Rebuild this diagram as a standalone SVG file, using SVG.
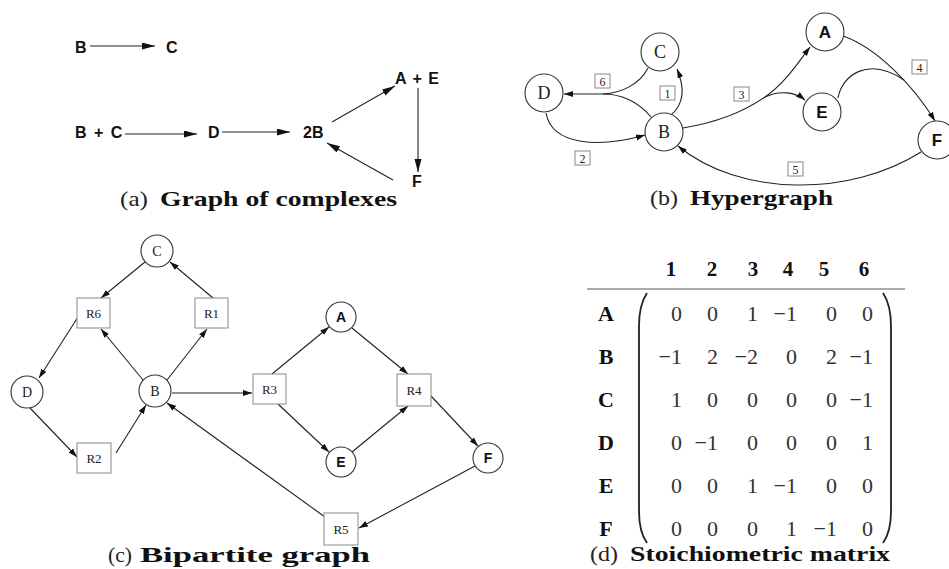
<svg xmlns="http://www.w3.org/2000/svg" width="949" height="569" viewBox="0 0 949 569">
<defs>
<marker id="ha" markerUnits="userSpaceOnUse" markerWidth="14" markerHeight="8" refX="13" refY="3.5" orient="auto"><path d="M0,0 L13,3.5 L0,7 Z" fill="#111"/></marker>
<marker id="hb" markerUnits="userSpaceOnUse" markerWidth="10" markerHeight="7" refX="9" refY="3" orient="auto"><path d="M0,0 L9,3 L0,6 Z" fill="#111"/></marker>
</defs>
<style>
.sans{font-family:"Liberation Sans",Arial,sans-serif;font-weight:bold;fill:#111}
.serif{font-family:"Liberation Serif","Times New Roman",serif;fill:#222}
.bold{font-weight:bold;fill:#111}
.mid{text-anchor:middle}
.end{text-anchor:end}
.node{fill:#fff;stroke:#333;stroke-width:1.1}
.box{fill:#fff;stroke:#888;stroke-width:1}
.edge{fill:none;stroke:#222;stroke-width:1.1}
.ea{marker-end:url(#ha)}
.eb{marker-end:url(#hb)}
.pa{font-size:16px}
.pb{font-size:18px}
.pbs{font-size:17px}
.lbl{font-size:12px}
.pc{font-size:14px}
.rl{font-size:13px}
.cap{font-size:22px}
.mx{font-size:22px;fill:#333}
.paren{fill:none;stroke:#222;stroke-width:1.8}
</style>
<rect width="949" height="569" fill="#fff"/>

<g id="connectors">
<!-- (a) -->
<path class="edge ea" d="M90,46 L155,46"/>
<path class="edge ea" d="M125,134 L197,134"/>
<path class="edge ea" d="M222,132 L290,132"/>
<path class="edge ea" d="M332,122 L395,86"/>
<path class="edge ea" d="M418,88 L418,172"/>
<path class="edge ea" d="M393,180 L327,143"/>
<!-- (b) -->
<path class="edge eb" d="M651,117 C638,101 620,94 603,94 L564,94"/>
<path class="edge" d="M648,68 C640,84 622,93 603,94"/>
<path class="edge eb" d="M671,115 C684,104 685,88 677,69"/>
<path class="edge eb" d="M546,113 C552,146 600,148 645,135"/>
<path class="edge eb" d="M683,128 C720,122 745,111 765,97 C785,83 797,64 810,47"/>
<path class="edge eb" d="M765,97 C780,90 795,92 805,100"/>
<path class="edge eb" d="M843,36 C878,48 915,88 935,121"/>
<path class="edge" d="M838,98 C842,75 868,56 904,80"/>
<path class="edge eb" d="M921,152 C850,197 740,197 678,146"/>
<!-- (c) -->
<path class="edge eb" d="M145,262 L101,298"/>
<path class="edge eb" d="M213,298 L170,262"/>
<path class="edge eb" d="M78,317 L39,378"/>
<path class="edge eb" d="M143,380 L101,329"/>
<path class="edge eb" d="M167,380 L207,329"/>
<path class="edge eb" d="M30,408 L77,457"/>
<path class="edge eb" d="M116,453 L146,405"/>
<path class="edge eb" d="M172,393 L252,393"/>
<path class="edge eb" d="M325,517 L167,403"/>
<path class="edge eb" d="M272,374 L329,327"/>
<path class="edge eb" d="M352,328 L408,374"/>
<path class="edge eb" d="M278,404 L329,452"/>
<path class="edge eb" d="M352,452 L408,406"/>
<path class="edge eb" d="M431,396 L478,446"/>
<path class="edge eb" d="M475,466 L359,528"/>
</g>

<!-- (a) graph of complexes -->
<g id="a-B"><text class="sans pa" x="75" y="53">B</text></g>
<g id="a-C"><text class="sans pa" x="166" y="53">C</text></g>
<g id="a-BC"><text class="sans pa" x="75" y="138" word-spacing="3">B + C</text></g>
<g id="a-D"><text class="sans pa" x="208" y="138">D</text></g>
<g id="a-2B"><text class="sans pa" x="303" y="138">2B</text></g>
<g id="a-AE"><text class="sans pa" x="395" y="84" word-spacing="2">A + E</text></g>
<g id="a-F"><text class="sans pa" x="412" y="187">F</text></g>
<g id="cap-a"><text class="serif cap" x="120" y="206" textLength="28" lengthAdjust="spacingAndGlyphs">(a)</text><text class="serif bold cap" x="160" y="206" textLength="237" lengthAdjust="spacingAndGlyphs">Graph of complexes</text></g>

<!-- (b) hypergraph -->
<g id="b-D"><circle class="node" cx="544" cy="93" r="19"/><text class="serif pb mid" x="544" y="99">D</text></g>
<g id="b-C"><circle class="node" cx="660" cy="52" r="19"/><text class="serif pb mid" x="660" y="58">C</text></g>
<g id="b-B"><circle class="node" cx="664" cy="132" r="19"/><text class="serif pb mid" x="664" y="138">B</text></g>
<g id="b-A"><circle class="node" cx="825" cy="32" r="19"/><text class="sans pbs mid" x="825" y="38">A</text></g>
<g id="b-E"><circle class="node" cx="822" cy="112" r="19"/><text class="sans pbs mid" x="822" y="118">E</text></g>
<g id="b-F"><circle class="node" cx="937" cy="140" r="19"/><text class="sans pbs mid" x="937" y="146">F</text></g>
<g id="b-l6"><rect class="box" x="595" y="74" width="15" height="14"/><text class="serif lbl mid" x="602.5" y="85.5">6</text></g>
<g id="b-l1"><rect class="box" x="660" y="86" width="15" height="14"/><text class="serif lbl mid" x="667.5" y="97.5">1</text></g>
<g id="b-l2"><rect class="box" x="575" y="151" width="15" height="14"/><text class="serif lbl mid" x="582.5" y="162.5">2</text></g>
<g id="b-l3"><rect class="box" x="734" y="87" width="15" height="14"/><text class="serif lbl mid" x="741.5" y="98.5">3</text></g>
<g id="b-l4"><rect class="box" x="912" y="60" width="15" height="14"/><text class="serif lbl mid" x="919.5" y="71.5">4</text></g>
<g id="b-l5"><rect class="box" x="788" y="162" width="15" height="14"/><text class="serif lbl mid" x="795.5" y="173.5">5</text></g>
<g id="cap-b"><text class="serif cap" x="650" y="205" textLength="28" lengthAdjust="spacingAndGlyphs">(b)</text><text class="serif bold cap" x="690" y="205" textLength="143" lengthAdjust="spacingAndGlyphs">Hypergraph</text></g>

<!-- (c) bipartite graph -->
<g id="c-C"><circle class="node" cx="157" cy="251" r="16"/><text class="serif pc mid" x="157" y="256">C</text></g>
<g id="c-D"><circle class="node" cx="27" cy="392" r="16"/><text class="serif pc mid" x="27" y="397">D</text></g>
<g id="c-B"><circle class="node" cx="155" cy="391" r="16"/><text class="serif pc mid" x="155" y="396">B</text></g>
<g id="c-A"><circle class="node" cx="341" cy="317" r="15"/><text class="sans pc mid" x="341" y="322">A</text></g>
<g id="c-E"><circle class="node" cx="341" cy="462" r="15"/><text class="sans pc mid" x="341" y="467">E</text></g>
<g id="c-F"><circle class="node" cx="488" cy="458" r="15"/><text class="sans pc mid" x="488" y="463">F</text></g>
<g id="c-R6"><rect class="box" x="77" y="298" width="33" height="30"/><text class="serif rl mid" x="93.5" y="317.5">R6</text></g>
<g id="c-R1"><rect class="box" x="195" y="298" width="33" height="30"/><text class="serif rl mid" x="211.5" y="317.5">R1</text></g>
<g id="c-R2"><rect class="box" x="77" y="443" width="34" height="30"/><text class="serif rl mid" x="94" y="462.5">R2</text></g>
<g id="c-R3"><rect class="box" x="253" y="374" width="33" height="30"/><text class="serif rl mid" x="269.5" y="393.5">R3</text></g>
<g id="c-R4"><rect class="box" x="397" y="374" width="34" height="32"/><text class="serif rl mid" x="414" y="394.5">R4</text></g>
<g id="c-R5"><rect class="box" x="324" y="513" width="34" height="32"/><text class="serif rl mid" x="341" y="533.5">R5</text></g>
<g id="cap-c"><text class="serif cap" x="108" y="562" textLength="24" lengthAdjust="spacingAndGlyphs">(c)</text><text class="serif bold cap" x="140" y="562" textLength="230" lengthAdjust="spacingAndGlyphs">Bipartite graph</text></g>

<!-- (d) stoichiometric matrix -->
<g id="d-header">
<text class="serif bold mid" font-size="21" x="671" y="276">1</text>
<text class="serif bold mid" font-size="21" x="712" y="276">2</text>
<text class="serif bold mid" font-size="21" x="753" y="276">3</text>
<text class="serif bold mid" font-size="21" x="788" y="276">4</text>
<text class="serif bold mid" font-size="21" x="824" y="276">5</text>
<text class="serif bold mid" font-size="21" x="864" y="276">6</text>
<line x1="587" y1="289" x2="905" y2="289" stroke="#555" stroke-width="1"/>
</g>
<g id="d-labels">
<text class="serif bold mid" font-size="22" x="606" y="321">A</text>
<text class="serif bold mid" font-size="22" x="606" y="364">B</text>
<text class="serif bold mid" font-size="22" x="606" y="407">C</text>
<text class="serif bold mid" font-size="22" x="606" y="450">D</text>
<text class="serif bold mid" font-size="22" x="606" y="493">E</text>
<text class="serif bold mid" font-size="22" x="606" y="536">F</text>
</g>
<g id="d-parens">
<path class="paren" d="M647,293 Q639,305 639,326 L639,511 Q639,532 647,543"/>
<path class="paren" d="M883,293 Q891,305 891,326 L891,511 Q891,532 883,543"/>
</g>
<g id="d-row-A" class="serif mx end">
<text class="mx end" x="682" y="321">0</text><text class="mx end" x="718" y="321">0</text><text class="mx end" x="758" y="321">1</text><text class="mx end" x="797" y="321">−1</text><text class="mx end" x="837" y="321">0</text><text class="mx end" x="873" y="321">0</text>
</g>
<g id="d-row-B" class="serif mx end">
<text class="mx end" x="682" y="364">−1</text><text class="mx end" x="718" y="364">2</text><text class="mx end" x="758" y="364">−2</text><text class="mx end" x="797" y="364">0</text><text class="mx end" x="837" y="364">2</text><text class="mx end" x="873" y="364">−1</text>
</g>
<g id="d-row-C" class="serif mx end">
<text class="mx end" x="682" y="407">1</text><text class="mx end" x="718" y="407">0</text><text class="mx end" x="758" y="407">0</text><text class="mx end" x="797" y="407">0</text><text class="mx end" x="837" y="407">0</text><text class="mx end" x="873" y="407">−1</text>
</g>
<g id="d-row-D" class="serif mx end">
<text class="mx end" x="682" y="450">0</text><text class="mx end" x="718" y="450">−1</text><text class="mx end" x="758" y="450">0</text><text class="mx end" x="797" y="450">0</text><text class="mx end" x="837" y="450">0</text><text class="mx end" x="873" y="450">1</text>
</g>
<g id="d-row-E" class="serif mx end">
<text class="mx end" x="682" y="493">0</text><text class="mx end" x="718" y="493">0</text><text class="mx end" x="758" y="493">1</text><text class="mx end" x="797" y="493">−1</text><text class="mx end" x="837" y="493">0</text><text class="mx end" x="873" y="493">0</text>
</g>
<g id="d-row-F" class="serif mx end">
<text class="mx end" x="682" y="536">0</text><text class="mx end" x="718" y="536">0</text><text class="mx end" x="758" y="536">0</text><text class="mx end" x="797" y="536">1</text><text class="mx end" x="837" y="536">−1</text><text class="mx end" x="873" y="536">0</text>
</g>
<g id="cap-d"><text class="serif cap" x="590" y="561" textLength="28" lengthAdjust="spacingAndGlyphs">(d)</text><text class="serif bold cap" x="630" y="561" textLength="260" lengthAdjust="spacingAndGlyphs">Stoichiometric matrix</text></g>
</svg>
